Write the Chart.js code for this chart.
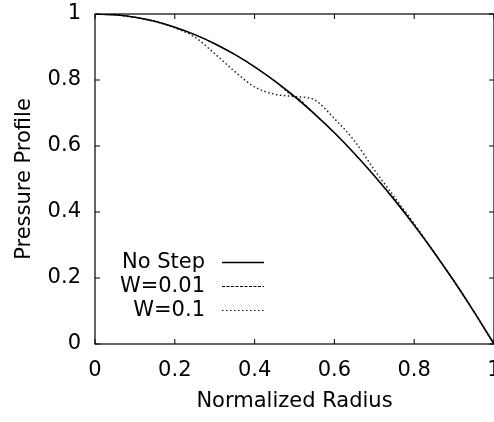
<!DOCTYPE html>
<html>
<head>
<meta charset="utf-8">
<script src="https://cdn.jsdelivr.net/npm/chart.js@4"></script>
<style>
  html, body { margin: 0; padding: 0; background: #fff; overflow: hidden; }
  #wrap { width: 494px; height: 422px; overflow: hidden; }
</style>
</head>
<body>
<div id="wrap"><canvas id="myChart" width="510" height="422"></canvas></div>
<script>
// values
var radius = [0, 0.05, 0.1, 0.15, 0.2, 0.25, 0.3, 0.35, 0.4, 0.45, 0.49, 0.5, 0.51, 0.55, 0.6, 0.65, 0.7, 0.75, 0.8, 0.85, 0.9, 0.95, 1];
var noStep = [1, 0.9975, 0.99, 0.978, 0.96, 0.9375, 0.91, 0.8775, 0.84, 0.7975, 0.76, 0.75, 0.74, 0.6975, 0.64, 0.5775, 0.51, 0.4375, 0.36, 0.2775, 0.19, 0.0975, 0];
var w001 = [1, 0.9975, 0.99, 0.978, 0.96, 0.9375, 0.91, 0.8775, 0.84, 0.7975, 0.756, 0.75, 0.744, 0.6975, 0.64, 0.5775, 0.51, 0.4375, 0.36, 0.2775, 0.19, 0.0975, 0];
var w01 = [1, 0.9975, 0.99, 0.977, 0.958, 0.93, 0.88, 0.826, 0.779, 0.757, 0.751, 0.75, 0.749, 0.74, 0.683, 0.616, 0.528, 0.446, 0.364, 0.2775, 0.19, 0.0975, 0];
var xTicks = [0, 0.2, 0.4, 0.6, 0.8, 1];
var yTicks = [0, 0.2, 0.4, 0.6, 0.8, 1];

var seriesNames = ['No Step', 'W=0.01', 'W=0.1'];

function points(ys) {
    return radius.map(function (r, i) { return { x: r, y: ys[i] }; });
}

var font = '"DejaVu Sans", sans-serif';
var fontSize = 21;

// gnuplot-style box with inward ticks, plus the key in the lower left
var frame = {
    id: 'frame',
    afterDatasetsDraw: function (chart) {
        var c = chart.ctx, a = chart.chartArea;
        var xs = chart.scales.x, ys = chart.scales.y;
        c.save();
        c.strokeStyle = '#000';
        c.lineWidth = 1.2;
        c.strokeRect(a.left, a.top, a.right - a.left, a.bottom - a.top);
        c.beginPath();
        xTicks.forEach(function (v) {
            var px = xs.getPixelForValue(v);
            c.moveTo(px, a.bottom); c.lineTo(px, a.bottom - 5);
            c.moveTo(px, a.top); c.lineTo(px, a.top + 5);
        });
        yTicks.forEach(function (v) {
            var py = ys.getPixelForValue(v);
            c.moveTo(a.left, py); c.lineTo(a.left + 5, py);
            c.moveTo(a.right, py); c.lineTo(a.right - 5, py);
        });
        c.lineWidth = 1;
        c.stroke();

        c.font = fontSize + 'px ' + font;
        c.fillStyle = '#000';
        c.textAlign = 'right';
        c.textBaseline = 'middle';
        chart.data.datasets.forEach(function (ds, i) {
            var y = 262 + i * 24;
            c.fillText(ds.label, 205, y + 1);
            c.beginPath();
            c.setLineDash(ds.borderDash || []);
            c.lineWidth = i === 0 ? 1.3 : 1;
            c.moveTo(222, y + 0.5);
            c.lineTo(264, y + 0.5);
            c.stroke();
        });
        c.restore();
    }
};

function label(v) { return String(v); }

var ctx = document.getElementById('myChart').getContext('2d');
var myChart = new Chart(ctx, {
    type: 'line',
    data: {
        datasets: [{
            label: seriesNames[0],
            data: points(noStep),
            borderColor: '#000',
            borderWidth: 1.6
        }, {
            label: seriesNames[1],
            data: points(w001),
            borderColor: '#000',
            borderWidth: 1,
            borderDash: [3, 1.5]
        }, {
            label: seriesNames[2],
            data: points(w01),
            borderColor: '#222',
            borderWidth: 1.5,
            borderDash: [1.5, 2.5]
        }]
    },
    options: {
        responsive: false,
        animation: false,
        events: [],
        cubicInterpolationMode: 'monotone',
        elements: { point: { radius: 0 } },
        layout: { padding: { top: 14, right: 16, bottom: 0, left: 0 } },
        plugins: {
            legend: { display: false },
            tooltip: { enabled: false }
        },
        scales: {
            x: {
                type: 'linear',
                min: 0,
                max: 1,
                grid: { display: false, drawTicks: false },
                border: { display: false },
                afterBuildTicks: function (s) { s.ticks = xTicks.map(function (v) { return { value: v }; }); },
                afterFit: function (s) { s.height = 78; s.paddingLeft = 0; s.paddingRight = 0; },
                ticks: { padding: 14, color: '#000', font: { family: font, size: fontSize }, maxRotation: 0, callback: label },
                title: { display: true, text: 'Normalized Radius', color: '#000', font: { family: font, size: fontSize }, padding: { top: 8, bottom: 8 } }
            },
            y: {
                min: 0,
                max: 1,
                grid: { display: false, drawTicks: false },
                border: { display: false },
                afterBuildTicks: function (s) { s.ticks = yTicks.map(function (v) { return { value: v }; }); },
                afterFit: function (s) { s.width = 95; s.paddingTop = 0; s.paddingBottom = 0; },
                ticks: { padding: 14, color: '#000', font: { family: font, size: fontSize }, callback: label },
                title: { display: true, text: 'Pressure Profile', color: '#000', font: { family: font, size: fontSize }, padding: { top: 12, bottom: 16 } }
            }
        }
    },
    plugins: [frame]
});
</script>
</body>
</html>
